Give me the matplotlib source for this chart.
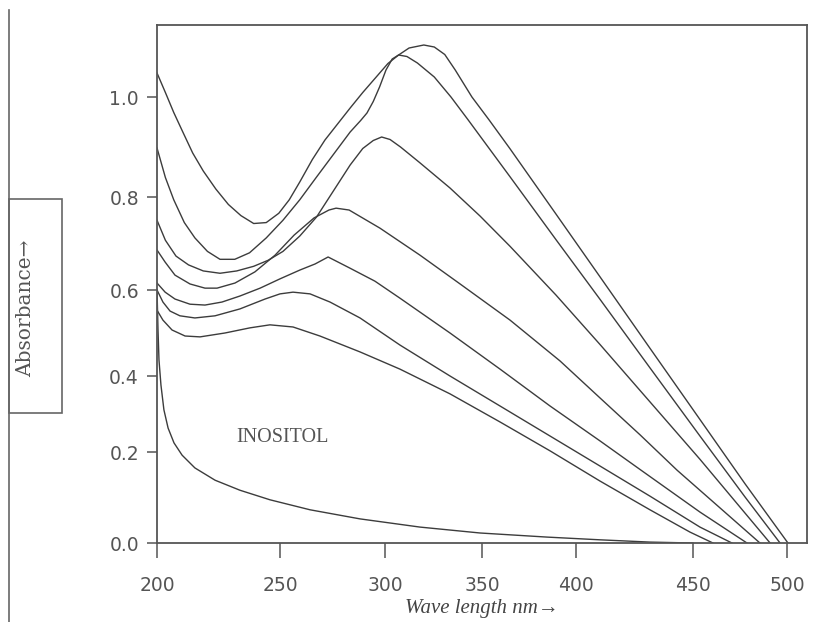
import numpy as np
import matplotlib.pyplot as plt
from matplotlib.patches import Rectangle
from matplotlib.lines import Line2D

# wavelength (nm) / absorbance
wl_a = [200, 203.4, 206.8, 210.2, 214.5, 218.8, 223.9, 229.0, 234.1, 239.3, 244.4, 249.5, 254.4,
        259.4, 265.4, 271.4, 277.4, 283.4, 289.4, 295.4, 301.5, 307.0, 312.4, 320.0, 325.4, 330.8,
        336.2, 344.8, 353.6, 364.8, 389.4, 410.3, 431.8, 454.2, 477.7, 500.5]
abs_a = [1.048, 1.009, 0.969, 0.933, 0.888, 0.852, 0.816, 0.784, 0.760, 0.743, 0.745, 0.765, 0.794,
         0.830, 0.875, 0.914, 0.946, 0.978, 1.009, 1.038, 1.067, 1.084, 1.098, 1.104, 1.100, 1.085,
         1.054, 1.0, 0.955, 0.897, 0.763, 0.628, 0.463, 0.282, 0.130, 0.0]

wl_b = [200, 203.4, 206.8, 211.1, 215.4, 220.5, 225.6, 231.6, 237.6, 244.4, 251.4, 259.4, 267.4,
        275.4, 283.4, 288.4, 291.4, 294.4, 297.4, 300.5, 303.7, 307.0, 311.3, 316.7, 325.4, 334.0,
        342.7, 350.3, 364.8, 389.4, 410.3, 431.6, 453.7, 477.7, 496.3]
abs_b = [0.898, 0.839, 0.794, 0.745, 0.712, 0.683, 0.666, 0.666, 0.680, 0.712, 0.750, 0.794, 0.840,
         0.885, 0.930, 0.953, 0.968, 0.991, 1.020, 1.054, 1.076, 1.084, 1.081, 1.068, 1.040, 1.0,
         0.955, 0.915, 0.841, 0.708, 0.578, 0.419, 0.242, 0.101, 0.0]

wl_c = [200, 203.4, 207.7, 212.8, 218.8, 225.6, 232.4, 239.3, 245.2, 251.4, 259.4, 267.4, 275.4,
        283.4, 289.4, 294.4, 298.4, 302.6, 308.0, 317.8, 333.5, 349.0, 364.9, 389.4, 410.3, 431.6,
        453.7, 491.0]
abs_c = [0.750, 0.707, 0.673, 0.654, 0.641, 0.636, 0.641, 0.651, 0.664, 0.683, 0.716, 0.757, 0.812,
         0.864, 0.897, 0.913, 0.920, 0.915, 0.900, 0.869, 0.818, 0.759, 0.694, 0.588, 0.473, 0.332,
         0.184, 0.0]

wl_d = [200, 203.3, 207.3, 213.4, 219.5, 224.4, 231.7, 239.8, 248.0, 256.7, 266.2, 273.3, 276.7,
        282.9, 297.6, 318.0, 338.7, 364.9, 391.5, 410.3, 427.4, 443.2, 464.4, 485.6]
abs_d = [0.686, 0.660, 0.632, 0.613, 0.604, 0.604, 0.615, 0.639, 0.675, 0.718, 0.755, 0.772, 0.776,
         0.772, 0.733, 0.675, 0.613, 0.530, 0.435, 0.342, 0.245, 0.160, 0.077, 0.0]

wl_e = [200, 203.3, 207.3, 213.4, 219.5, 226.4, 233.7, 241.9, 250.0, 259.5, 266.7, 272.9, 283.3,
        295.2, 307.7, 333.5, 359.6, 386.2, 410.3, 427.8, 453.7, 478.7]
abs_e = [0.615, 0.595, 0.579, 0.567, 0.565, 0.572, 0.586, 0.604, 0.624, 0.643, 0.656, 0.671, 0.647,
         0.619, 0.581, 0.500, 0.416, 0.321, 0.229, 0.160, 0.068, 0.0]

wl_f = [200, 202.4, 205.3, 209.3, 215.4, 223.6, 233.7, 243.9, 250.0, 256.2, 264.3, 273.8, 288.1,
        307.7, 333.5, 359.6, 386.2, 410.3, 431.6, 453.7, 470.7]
abs_f = [0.600, 0.572, 0.551, 0.540, 0.535, 0.540, 0.556, 0.579, 0.591, 0.595, 0.591, 0.572, 0.535,
         0.472, 0.400, 0.321, 0.242, 0.169, 0.103, 0.035, 0.0]

wl_g = [200, 202.4, 206.1, 211.4, 217.5, 227.6, 237.8, 245.9, 256.2, 269.0, 288.1, 307.7, 333.5,
        359.6, 386.2, 410.3, 431.6, 448.7, 460.6]
abs_g = [0.553, 0.530, 0.507, 0.493, 0.491, 0.500, 0.512, 0.519, 0.514, 0.493, 0.456, 0.416, 0.353,
         0.279, 0.203, 0.136, 0.073, 0.024, 0.0]

wl_inositol = [200, 200.4, 200.8, 201.6, 202.8, 204.5, 206.9, 210.2, 215.4, 223.6, 233.7, 245.9,
               264.3, 288.1, 318.0, 349.0, 384.6, 410.3, 431.6, 450.0]
abs_inositol = [0.600, 0.507, 0.437, 0.376, 0.311, 0.263, 0.224, 0.193, 0.165, 0.138, 0.116, 0.095,
                0.073, 0.053, 0.035, 0.022, 0.013, 0.007, 0.002, 0.0]

x_ticks = [200, 250, 300, 350, 400, 450, 500]
y_ticks = [0.0, 0.2, 0.4, 0.6, 0.8, 1.0]

# the printed axes are not evenly divided; calibrate each axis to where
# its tick marks sit in the original (pixels from the lower-left corner)
x_cal_val = [0, 200, 250, 300, 350, 400, 450, 500, 510.6, 1000]
x_cal_px = [-492, 0, 123, 228, 325, 419, 536, 630, 650, 1570]
y_cal_val = [-1, 0, 0.2, 0.4, 0.6, 0.8, 1.0, 1.144, 2]
y_cal_px = [-455, 0, 91, 167, 253, 346, 446, 518, 946]


def x_fwd(v):
    return np.interp(v, x_cal_val, x_cal_px)


def x_inv(p):
    return np.interp(p, x_cal_px, x_cal_val)


def y_fwd(v):
    return np.interp(v, y_cal_val, y_cal_px)


def y_inv(p):
    return np.interp(p, y_cal_px, y_cal_val)


fig = plt.figure(figsize=(8.26, 6.22), dpi=100)
ax = fig.add_axes([0.1901, 0.1270, 0.7869, 0.8328])
ax.set_xscale('function', functions=(x_fwd, x_inv))
ax.set_yscale('function', functions=(y_fwd, y_inv))

line_col = '#3c3c3c'
for wl, ab in [(wl_a, abs_a), (wl_b, abs_b), (wl_c, abs_c), (wl_d, abs_d),
               (wl_e, abs_e), (wl_f, abs_f), (wl_g, abs_g), (wl_inositol, abs_inositol)]:
    ax.plot(wl, ab, color=line_col, lw=1.0, solid_joinstyle='round')

ax.set_xlim(200, 510.6)
ax.set_ylim(0, 1.144)
ax.set_xticks(x_ticks)
ax.set_xticklabels([str(v) for v in x_ticks])
ax.set_yticks(y_ticks)
ax.set_yticklabels(['%.1f' % v for v in y_ticks])
ax.minorticks_off()
for s in ax.spines.values():
    s.set_color('#555555')
    s.set_linewidth(1.3)
ax.tick_params(axis='x', direction='out', length=10.5, width=1.1, pad=13,
               labelsize=13.5, colors='#555555')
ax.tick_params(axis='y', direction='out', length=7, width=1.1, pad=6,
               labelsize=13.5, colors='#555555')

ax.set_xlabel('Wave length nm→', family='Liberation Serif', style='italic',
              fontsize=15, color='#444444', labelpad=3)

ax.text(251, 0.239, 'INOSITOL', family='Liberation Serif', fontsize=14.5,
        color='#555555', ha='center', va='center')

# boxed y label on the left, with the long rule beside it
fig.add_artist(Line2D([9 / 826, 9 / 826], [0, 1 - 10 / 622], color='#666666', lw=1.2))
fig.add_artist(Rectangle((9 / 826, 1 - 413 / 622), 53 / 826, 214 / 622, fill=False,
                         edgecolor='#666666', lw=1.2))
fig.text(26 / 826, 1 - 308 / 622, 'Absorbance→', rotation=90, family='DejaVu Serif',
         fontsize=14.5, color='#555555', ha='center', va='center')

plt.savefig('out.png', dpi=100)
